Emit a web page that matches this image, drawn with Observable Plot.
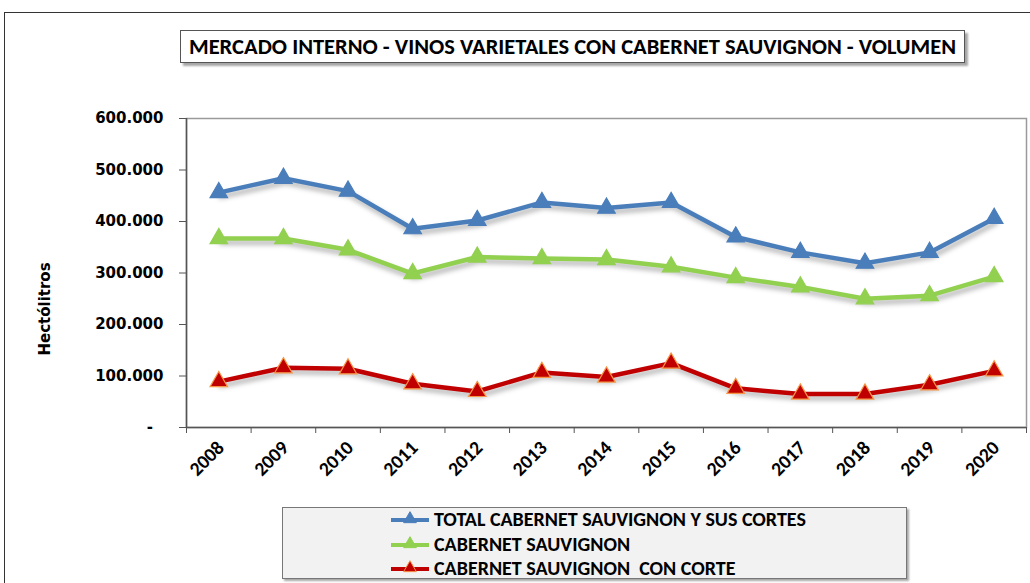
<!DOCTYPE html>
<html>
<head>
<meta charset="utf-8">
<script src="https://cdn.jsdelivr.net/npm/d3@7"></script>
<script src="https://cdn.jsdelivr.net/npm/@observablehq/plot@0.6"></script>
<style>
  html, body { margin: 0; padding: 0; background: #fff; }
  #wrap { position: relative; width: 1030px; height: 583px; overflow: hidden; background: #fff; }
  #outer { position: absolute; left: 4px; top: 12px; width: 1100px; height: 700px; border: 1.5px solid #333; box-sizing: border-box; }
  #title { position: absolute; left: 180px; top: 30px; width: 785px; height: 33px; box-sizing: border-box;
    border: 1px solid #555; background: #fff; box-shadow: 3px 3px 2px rgba(0,0,0,0.35);
    font-family: Carlito, "Liberation Sans Narrow", "Liberation Sans", sans-serif; font-weight: bold; font-size: 22.5px;
    text-align: center; line-height: 31px; color: #000; white-space: nowrap; }
  #legend { position: absolute; left: 282px; top: 507px; width: 625px; height: 72px; box-sizing: border-box;
    border: 1px solid #777; background: #f2f2f2; box-shadow: 2px 2px 2px rgba(0,0,0,0.35); }
  .row { position: absolute; left: 107px; height: 24px; display: flex; align-items: center;
    font-family: Carlito, "Liberation Sans Narrow", "Liberation Sans", sans-serif; font-weight: bold; font-size: 20px; color: #000; white-space: pre; }
  .row svg { margin-right: 4px; }
  #chart { position: absolute; left: 0; top: 0; }
  .shadow { filter: drop-shadow(2px 4px 2.5px rgba(0,0,0,0.3)); }
</style>
</head>
<body>
<div id="wrap">
  <div id="outer"></div>
  <div id="chart"></div>
  <div id="title"></div>
  <div id="legend"></div>
</div>
<script>
const titleText = "MERCADO INTERNO - VINOS VARIETALES CON CABERNET SAUVIGNON - VOLUMEN";
const yLabel = "Hectólitros";
const years = [2008, 2009, 2010, 2011, 2012, 2013, 2014, 2015, 2016, 2017, 2018, 2019, 2020];
const seriesNames = ["TOTAL CABERNET SAUVIGNON Y SUS CORTES", "CABERNET SAUVIGNON", "CABERNET SAUVIGNON  CON CORTE"];
const totalValues = [456000, 484000, 459000, 386000, 402000, 437000, 426000, 437000, 370000, 340000, 319000, 340000, 406000];
const cabernetValues = [367000, 367000, 345000, 299000, 331000, 328000, 326000, 312000, 291000, 273000, 250000, 256000, 293000];
const corteValues = [89000, 116000, 114000, 85000, 70000, 107000, 98000, 125000, 76000, 65000, 65000, 83000, 110000];
const yTicks = [0, 100000, 200000, 300000, 400000, 500000, 600000];
const lineColors = ["#4a7ebb", "#92d050", "#c00000"];
const markerStrokes = ["#4a7ebb", "#92d050", "#f79646"];

document.getElementById("title").textContent = titleText;

const allValues = [totalValues, cabernetValues, corteValues];
const data = seriesNames.flatMap((s, i) => years.map((yr, j) => ({series: s, year: yr, value: allValues[i][j]})));
const boundaries = [years[0] - 0.5, ...years.map(y => y + 0.5)];

const fmtY = d => d === 0 ? "-\u00a0\u00a0" : d3.format(",")(d).replace(/,/g, ".");

const plot = Plot.plot({
  width: 1030,
  height: 583,
  marginLeft: 186,
  marginRight: 4,
  marginTop: 118,
  marginBottom: 156,
  style: {background: "transparent", overflow: "visible", color: "#000"},
  x: {type: "linear", domain: [boundaries[0], boundaries[boundaries.length - 1]]},
  y: {domain: [0, 600000]},
  color: {domain: seriesNames, range: lineColors},
  marks: [
    Plot.frame({stroke: "#9a9a9a", strokeWidth: 1.5}),
    Plot.ruleX([boundaries[0]], {stroke: "#555", strokeWidth: 1.5}),
    Plot.ruleY([0], {stroke: "#555", strokeWidth: 1.5}),
    Plot.axisY({ticks: yTicks, tickSize: 7, tickPadding: 16, tickFormat: fmtY,
      fontSize: 15, fontWeight: "bold", fontFamily: "DejaVu Sans", label: null, stroke: "#555"}),
    Plot.text([yLabel], {frameAnchor: "left", textAnchor: "middle", dx: -141, dy: 36, rotate: -90,
      fontSize: 15, fontWeight: "bold", fontFamily: "DejaVu Sans", fill: "#000"}),
    Plot.axisX({ticks: boundaries, tickSize: 6, tickFormat: () => "", label: null, stroke: "#555"}),
    Plot.axisX({ticks: years, tickSize: 0, tickPadding: 17, tickRotate: -45, tickFormat: d => String(d), label: null,
      fontSize: 19.5, fontWeight: "bold", fontFamily: "Carlito, 'Liberation Sans Narrow', 'Liberation Sans', sans-serif", dx: 2}),
    Plot.line(data, {x: "year", y: "value", z: "series", stroke: "series", strokeWidth: 4.5, className: "shadow"}),
    Plot.dot(data, {x: "year", y: "value", symbol: "triangle", r: 6.5, fill: "series",
      stroke: d => markerStrokes[seriesNames.indexOf(d.series)], strokeWidth: 1.2})
  ]
});
document.getElementById("chart").appendChild(plot);

// Legend
const legend = document.getElementById("legend");
seriesNames.forEach((s, i) => {
  const row = document.createElement("div");
  row.className = "row";
  row.style.top = (i * 24.5 - 1) + "px";
  const sw = d3.create("svg").attr("width", 40).attr("height", 20);
  sw.append("line").attr("x1", 1).attr("x2", 39).attr("y1", 11).attr("y2", 11)
    .attr("stroke", lineColors[i]).attr("stroke-width", 4);
  sw.append("path").attr("d", d3.symbol(d3.symbolTriangle, 70)())
    .attr("transform", "translate(20,10)").attr("fill", lineColors[i]).attr("stroke", markerStrokes[i]);
  row.appendChild(sw.node());
  const t = document.createElement("span");
  t.textContent = s;
  row.appendChild(t);
  legend.appendChild(row);
});
</script>
</body>
</html>
